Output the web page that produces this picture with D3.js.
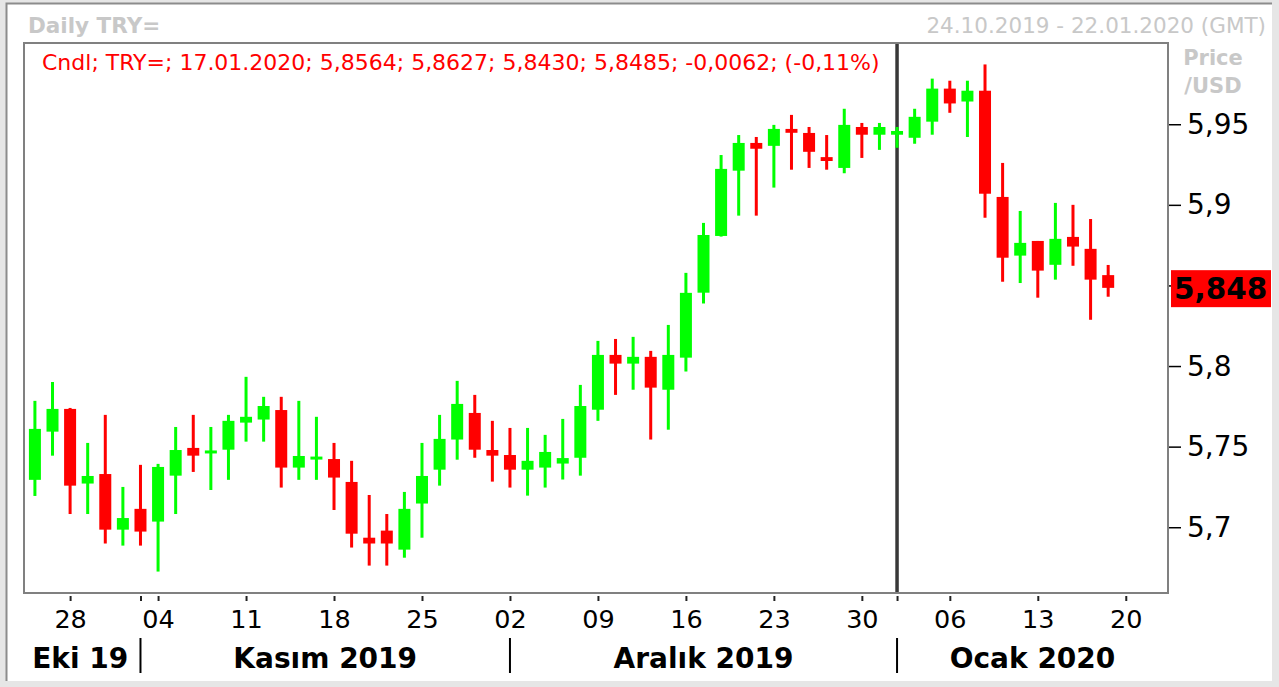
<!DOCTYPE html>
<html>
<head>
<meta charset="UTF-8">
<script src="https://d3js.org/d3.v7.min.js"></script>
<style>
  body { margin: 0; background: #fff; }
  svg text { font-family: "DejaVu Sans", Verdana, sans-serif; }
</style>
</head>
<body>
<script>
var width = 1279, height = 687;

// trading days shown on the chart
var dates = [
  "24.10.2019","25.10.2019","28.10.2019","29.10.2019","30.10.2019","31.10.2019",
  "01.11.2019","04.11.2019","05.11.2019","06.11.2019","07.11.2019","08.11.2019",
  "11.11.2019","12.11.2019","13.11.2019","14.11.2019","15.11.2019","18.11.2019",
  "19.11.2019","20.11.2019","21.11.2019","22.11.2019","25.11.2019","26.11.2019",
  "27.11.2019","28.11.2019","29.11.2019",
  "02.12.2019","03.12.2019","04.12.2019","05.12.2019","06.12.2019","09.12.2019",
  "10.12.2019","11.12.2019","12.12.2019","13.12.2019","16.12.2019","17.12.2019",
  "18.12.2019","19.12.2019","20.12.2019","23.12.2019","24.12.2019","25.12.2019",
  "26.12.2019","27.12.2019","30.12.2019","31.12.2019",
  "01.01.2020","02.01.2020","03.01.2020","06.01.2020","07.01.2020","08.01.2020",
  "09.01.2020","10.01.2020","13.01.2020","14.01.2020","15.01.2020","16.01.2020",
  "17.01.2020"
];

var opens = [
  5.7294,5.7593,5.7734,5.7271,5.7330,5.6985,5.7114,5.7035,5.7320,5.7492,5.7456,5.7481,
  5.7649,5.7668,5.7727,5.7370,5.7417,5.7423,5.7281,5.6935,5.6979,5.6861,5.7147,5.7357,
  5.7544,5.7709,5.7479,
  5.7448,5.7357,5.7370,5.7395,5.7431,5.7729,5.8069,5.8015,5.8057,5.7853,5.8052,5.8455,
  5.8807,5.9212,5.9384,5.9366,5.9471,5.9446,5.9296,5.9229,5.9483,5.9435,
  5.9435,5.9416,5.9516,5.9721,5.9641,5.9708,5.9049,5.8685,5.8776,5.8628,5.8801,5.8727,
  5.8564
];
var highs = [
  5.7784,5.7901,5.7740,5.7523,5.7697,5.7250,5.7387,5.7393,5.7622,5.7697,5.7622,5.7697,
  5.7933,5.7809,5.7809,5.7784,5.7685,5.7523,5.7412,5.7200,5.7082,5.7219,5.7523,5.7697,
  5.7908,5.7821,5.7660,
  5.7616,5.7616,5.7573,5.7672,5.7883,5.8156,5.8168,5.8181,5.8094,5.8255,5.8578,5.8888,
  5.9309,5.9433,5.9421,5.9496,5.9558,5.9483,5.9433,5.9596,5.9508,5.9508,
  5.9483,5.9596,5.9783,5.9770,5.9770,5.9871,5.9260,5.8962,5.8776,5.9012,5.9000,5.8912,
  5.8627
];
var lows = [
  5.7194,5.7444,5.7082,5.7082,5.6899,5.6886,5.6886,5.6725,5.7082,5.7343,5.7231,5.7294,
  5.7531,5.7531,5.7246,5.7294,5.7294,5.7107,5.6874,5.6762,5.6762,5.6811,5.6935,5.7258,
  5.7419,5.7431,5.7283,
  5.7246,5.7196,5.7246,5.7296,5.7320,5.7660,5.7821,5.7853,5.7544,5.7605,5.7966,5.8388,
  5.8803,5.8933,5.8933,5.9107,5.9218,5.9229,5.9218,5.9196,5.9291,5.9341,
  5.9354,5.9379,5.9435,5.9571,5.9421,5.8920,5.8523,5.8515,5.8424,5.8536,5.8622,5.8287,
  5.8430
];
var closes = [
  5.7610,5.7734,5.7258,5.7318,5.6985,5.7057,5.6973,5.7374,5.7479,5.7444,5.7467,5.7660,
  5.7685,5.7752,5.7370,5.7442,5.7429,5.7308,5.6960,5.6899,5.6899,5.7114,5.7318,5.7548,
  5.7765,5.7481,5.7444,
  5.7357,5.7412,5.7467,5.7429,5.7752,5.8069,5.8015,5.8057,5.7866,5.8069,5.8454,5.8813,
  5.9223,5.9384,5.9348,5.9471,5.9447,5.9329,5.9272,5.9496,5.9435,5.9483,
  5.9458,5.9546,5.9721,5.9629,5.9708,5.9069,5.8672,5.8764,5.8592,5.8789,5.8741,5.8536,
  5.8485
];

// axis labels
var priceTicks = [5.7, 5.75, 5.8, 5.85, 5.9, 5.95];
var weekTickIdx = [2, 7, 12, 17, 22, 27, 32, 37, 42, 47, 52, 57, 62];
var weekTickLabels = ["28","04","11","18","25","02","09","16","23","30","06","13","20"];
var monthStartIdx = [6, 27, 49];
var monthLabels = ["Eki 19", "Kasım 2019", "Aralık 2019", "Ocak 2020"];

var lastPrice = 5.848;
var infoText = "Cndl; TRY=; 17.01.2020; 5,8564; 5,8627; 5,8430; 5,8485; -0,0062; (-0,11%)";

var pLeft = 24, pRight = 1168, pTop = 43, pBottom = 593;

var svg = d3.select('body').append('svg')
  .attr('width', width).attr('height', height);

// outer frame
svg.append('rect').attr('x', 0).attr('y', 0).attr('width', width).attr('height', height).attr('fill', '#e6e6e6');
svg.append('rect').attr('x', 6).attr('y', 3).attr('width', 1266).attr('height', 678).attr('fill', '#fff');
svg.append('path').attr('d', 'M6.5,681V3.5H1272').attr('fill', 'none').attr('stroke', '#8c8c8c').attr('stroke-width', 2);

var x = d3.scaleLinear().domain([-0.62, 64.4]).range([pLeft, pRight]);
var y = d3.scaleLinear().domain([5.6592, 6.0004]).range([pBottom, pTop]);

var fmt = function(d) { return String(d).replace('.', ','); };

// titles
svg.append('text').attr('x', 28).attr('y', 33).attr('fill', '#c8c8c8')
  .attr('font-size', 21.5).attr('font-weight', 'bold').text('Daily TRY=');
svg.append('text').attr('x', 1266).attr('y', 33).attr('fill', '#c8c8c8')
  .attr('font-size', 21.5).attr('text-anchor', 'end').text('24.10.2019 - 22.01.2020 (GMT)');
svg.append('text').attr('x', 1213).attr('y', 65).attr('fill', '#c8c8c8')
  .attr('font-size', 21).attr('font-weight', 'bold').attr('text-anchor', 'middle').text('Price');
svg.append('text').attr('x', 1213).attr('y', 93).attr('fill', '#c8c8c8')
  .attr('font-size', 21).attr('font-weight', 'bold').attr('text-anchor', 'middle').text('/USD');

var plot = svg.append('g');
plot.append('rect').attr('x', pLeft).attr('y', pTop).attr('width', pRight - pLeft).attr('height', pBottom - pTop)
  .attr('fill', '#fff');

// year boundary line
plot.append('line')
  .attr('x1', x(monthStartIdx[2])).attr('x2', x(monthStartIdx[2]))
  .attr('y1', pTop).attr('y2', pBottom)
  .attr('stroke', '#383838').attr('stroke-width', 3.5);

// candles
var candles = d3.range(dates.length).map(function(i) {
  return {i: i, o: opens[i], h: highs[i], l: lows[i], c: closes[i]};
});

var cg = plot.selectAll('g.candle').data(candles).join('g').attr('class', 'candle')
  .attr('fill', function(d) { return d.c >= d.o ? '#00ff00' : '#ff0000'; });

cg.append('rect')
  .attr('x', function(d) { return x(d.i) - 1.5; })
  .attr('width', 3)
  .attr('y', function(d) { return y(d.h); })
  .attr('height', function(d) { return y(d.l) - y(d.h); });

cg.append('rect')
  .attr('x', function(d) { return x(d.i) - 6; })
  .attr('width', 12)
  .attr('y', function(d) { return Math.min(y(d.o), y(d.c)) - (Math.abs(y(d.o) - y(d.c)) < 3 ? 1.5 : 0); })
  .attr('height', function(d) { return Math.max(3, Math.abs(y(d.o) - y(d.c))); });

// info text
plot.append('text').attr('x', 42).attr('y', 70).attr('fill', '#ff0000')
  .attr('font-size', 22).text(infoText);

// plot border
svg.append('rect').attr('x', pLeft).attr('y', pTop).attr('width', pRight - pLeft).attr('height', pBottom - pTop)
  .attr('fill', 'none').attr('stroke', '#808080').attr('stroke-width', 2);

// y axis (label under the last-price box is hidden)
var yAxis = svg.append('g').attr('transform', 'translate(' + (pRight + 1) + ',0)')
  .call(d3.axisRight(y).tickValues(priceTicks).tickSize(12).tickPadding(6)
    .tickFormat(function(d) { return Math.abs(d - lastPrice) < 0.01 ? '' : fmt(d); }));
yAxis.select('.domain').remove();
yAxis.selectAll('line').attr('stroke', '#000').attr('stroke-width', 1.5);
yAxis.selectAll('text').attr('font-size', 28).attr('fill', '#000')
  .attr('font-family', '"DejaVu Sans", Verdana, sans-serif');

// last price label
svg.append('rect').attr('x', 1171).attr('y', y(lastPrice) - 18.5).attr('width', 100).attr('height', 37)
  .attr('fill', '#ff0000');
svg.append('text').attr('x', 1174).attr('y', y(lastPrice)).attr('dy', '0.36em')
  .attr('font-size', 29.5).attr('font-weight', 'bold').attr('fill', '#000').text(fmt(lastPrice));

// x axis
var tickIdx = weekTickIdx.concat(monthStartIdx.filter(function(m) { return weekTickIdx.indexOf(m) < 0; }));
var xAxis = svg.append('g').attr('transform', 'translate(0,' + (pBottom + 3) + ')')
  .call(d3.axisBottom(x).tickValues(tickIdx).tickSize(5).tickPadding(8.5)
    .tickFormat(function(d) { var k = weekTickIdx.indexOf(d); return k < 0 ? '' : weekTickLabels[k]; }));
xAxis.select('.domain').remove();
xAxis.selectAll('line').attr('stroke', '#222').attr('stroke-width', 2);
xAxis.selectAll('text').attr('font-size', 25.5).attr('fill', '#000')
  .attr('font-family', '"DejaVu Sans", Verdana, sans-serif');

// month labels and separators
var bounds = [pLeft].concat(monthStartIdx.map(function(m) { return x(m); })).concat([pRight]);
monthStartIdx.forEach(function(m) {
  svg.append('line').attr('x1', x(m)).attr('x2', x(m)).attr('y1', 638).attr('y2', 673)
    .attr('stroke', '#000').attr('stroke-width', 2);
});
monthLabels.forEach(function(lbl, k) {
  svg.append('text').attr('x', (bounds[k] + bounds[k + 1]) / 2 - (k === 0 ? 2 : 0)).attr('y', 668)
    .attr('text-anchor', 'middle').attr('font-size', 28).attr('font-weight', 'bold')
    .attr('fill', '#000').text(lbl);
});
</script>
</body>
</html>
